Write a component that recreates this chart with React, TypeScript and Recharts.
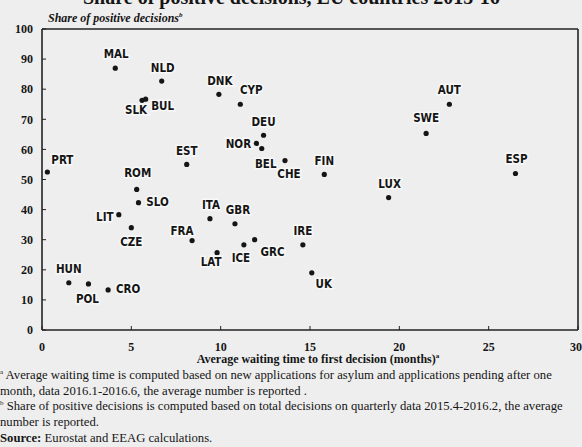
import {
  ScatterChart,
  Scatter,
  XAxis,
  YAxis,
  ReferenceLine,
} from 'recharts';

// country codes with average waiting time (months) and share of positive decisions (%)
const countries = [
  'MAL', 'NLD', 'DNK', 'CYP', 'SLK', 'BUL', 'DEU', 'NOR', 'BEL', 'EST', 'CHE',
  'PRT', 'AUT', 'SWE', 'ESP', 'FIN', 'ROM', 'SLO', 'LIT', 'CZE', 'FRA', 'ITA',
  'GBR', 'ICE', 'GRC', 'LAT', 'HUN', 'POL', 'CRO', 'LUX', 'IRE', 'UK',
];
const waitingMonths = [
  4.1, 6.7, 9.9, 11.1, 5.6, 5.8, 12.4, 12.0, 12.3, 8.1, 13.6,
  0.3, 22.8, 21.5, 26.5, 15.8, 5.3, 5.4, 4.3, 5.0, 8.4, 9.4,
  10.8, 11.3, 11.9, 9.8, 1.5, 2.6, 3.7, 19.4, 14.6, 15.1,
];
const positiveShare = [
  87, 82.7, 78.3, 75, 76.3, 76.7, 64.7, 62, 60.3, 55, 56.3,
  52.5, 75, 65.3, 52, 51.7, 46.7, 42.3, 38.3, 34, 29.7, 37,
  35.3, 28.3, 30, 25.7, 15.7, 15.3, 13.3, 44, 28.3, 19,
];
const xTicks = [0, 5, 10, 15, 20, 25, 30];
const yTicks = [0, 10, 20, 30, 40, 50, 60, 70, 80, 90, 100];

// label placement around each dot (dx, dy in px)
const labelOffset: Record<string, [number, number]> = {
  MAL: [1, -14], NLD: [1, -13], DNK: [1, -13], CYP: [11, -14],
  SLK: [-6, 10], BUL: [17, 7], DEU: [0, -13], NOR: [-18, 1],
  BEL: [4, 16], EST: [0, -13], CHE: [4, 13], PRT: [15, -12],
  AUT: [0, -14], SWE: [0, -15], ESP: [1, -14], FIN: [0, -13],
  ROM: [1, -16], SLO: [19, -1], LIT: [-14, 2], CZE: [0, 14],
  FRA: [-10, -10], ITA: [1, -14], GBR: [3, -14], ICE: [-3, 13],
  GRC: [18, 12], LAT: [-6, 9], HUN: [0, -14], POL: [-1, 15],
  CRO: [20, -1], LUX: [1, -14], IRE: [0, -14], UK: [12, 11],
};

const points = countries.map((code, i) => ({
  code,
  waiting: waitingMonths[i],
  share: positiveShare[i],
}));

const serif = "'Liberation Serif', 'Times New Roman', serif";
const narrow = "'Liberation Sans Narrow', 'DejaVu Sans Condensed', 'Liberation Sans', sans-serif";
const ink = '#151515';
const bg = '#eeeeee';

const CountryDot = (props: any) => {
  const { cx, cy, payload } = props;
  const [dx, dy] = labelOffset[payload.code] ?? [0, -13];
  return (
    <g>
      <circle cx={cx} cy={cy} r={2.6} fill={ink} />
      <text
        x={cx + dx}
        y={cy + dy}
        textAnchor="middle"
        dominantBaseline="central"
        fontFamily={narrow}
        fontWeight="bold"
        fontSize={11.5}
        fill={ink}
        stroke="#f8f8f8"
        strokeWidth={3}
        paintOrder="stroke"
      >
        {payload.code}
      </text>
    </g>
  );
};

const tickStyle = { fontFamily: serif, fontWeight: 'bold' as const, fontSize: 12, fill: ink };

export default function App() {
  return (
    <div
      style={{
        position: 'absolute',
        left: 0,
        top: 0,
        width: 582,
        height: 447,
        background: bg,
        overflow: 'hidden',
        fontFamily: serif,
        color: ink,
      }}
    >
      {/* title, partly cut at the top edge */}
      <div
        style={{
          position: 'absolute',
          left: 83,
          top: -13,
          fontSize: 20,
          lineHeight: '20px',
          fontWeight: 'bold',
          whiteSpace: 'nowrap',
        }}
      >
        Share of positive decisions, EU countries 2015-16
      </div>

      <div
        style={{
          position: 'absolute',
          left: 48,
          top: 11,
          fontSize: 12,
          fontStyle: 'italic',
          fontWeight: 'bold',
          whiteSpace: 'nowrap',
        }}
      >
        Share of positive decisions<sup style={{ fontSize: 7 }}>b</sup>
      </div>

      <div style={{ position: 'absolute', left: 0, top: 0 }}>
        <ScatterChart
          width={582}
          height={360}
          margin={{ top: 29, right: 4, bottom: 0, left: 0 }}
        >
          <XAxis
            type="number"
            dataKey="waiting"
            domain={[0, 30]}
            ticks={xTicks}
            height={30}
            tick={tickStyle}
            tickSize={-4}
            tickMargin={16}
            axisLine={{ stroke: '#222', strokeWidth: 1.6 }}
            tickLine={{ stroke: '#222' }}
            allowDataOverflow
          />
          <YAxis
            type="number"
            dataKey="share"
            domain={[0, 100]}
            ticks={yTicks}
            width={42}
            tick={tickStyle}
            tickSize={-4}
            tickMargin={13}
            axisLine={{ stroke: '#222', strokeWidth: 1.6 }}
            tickLine={{ stroke: '#222' }}
          />
          <ReferenceLine y={100} stroke="#222" strokeWidth={1.6} />
          <ReferenceLine x={30} stroke="#222" strokeWidth={1.6} />
          <Scatter data={points} shape={CountryDot} isAnimationActive={false} />
        </ScatterChart>
      </div>

      <div
        style={{
          position: 'absolute',
          left: 27,
          width: 582,
          top: 352,
          textAlign: 'center',
          fontSize: 12,
          lineHeight: '15px',
          fontWeight: 'bold',
          whiteSpace: 'nowrap',
        }}
      >
        Average waiting time to first decision (months)<sup style={{ fontSize: 7, lineHeight: 0 }}>a</sup>
      </div>

      {/* footnotes */}
      <div
        style={{
          position: 'absolute',
          left: 0,
          top: 368,
          fontSize: 12.7,
          lineHeight: '15.5px',
          whiteSpace: 'nowrap',
        }}
      >
        <div>
          <sup style={{ fontSize: 7, lineHeight: 0 }}>a</sup> Average waiting time is computed based on new applications for asylum and applications pending after one
        </div>
        <div>month, data 2016.1-2016.6, the average number is reported .</div>
        <div>
          <sup style={{ fontSize: 7, lineHeight: 0 }}>b</sup> Share of positive decisions is computed based on total decisions on quarterly data 2015.4-2016.2, the average
        </div>
        <div>number is reported.</div>
        <div style={{ marginTop: 1 }}>
          <b>Source:</b> Eurostat and EEAG calculations.
        </div>
      </div>
    </div>
  );
}
